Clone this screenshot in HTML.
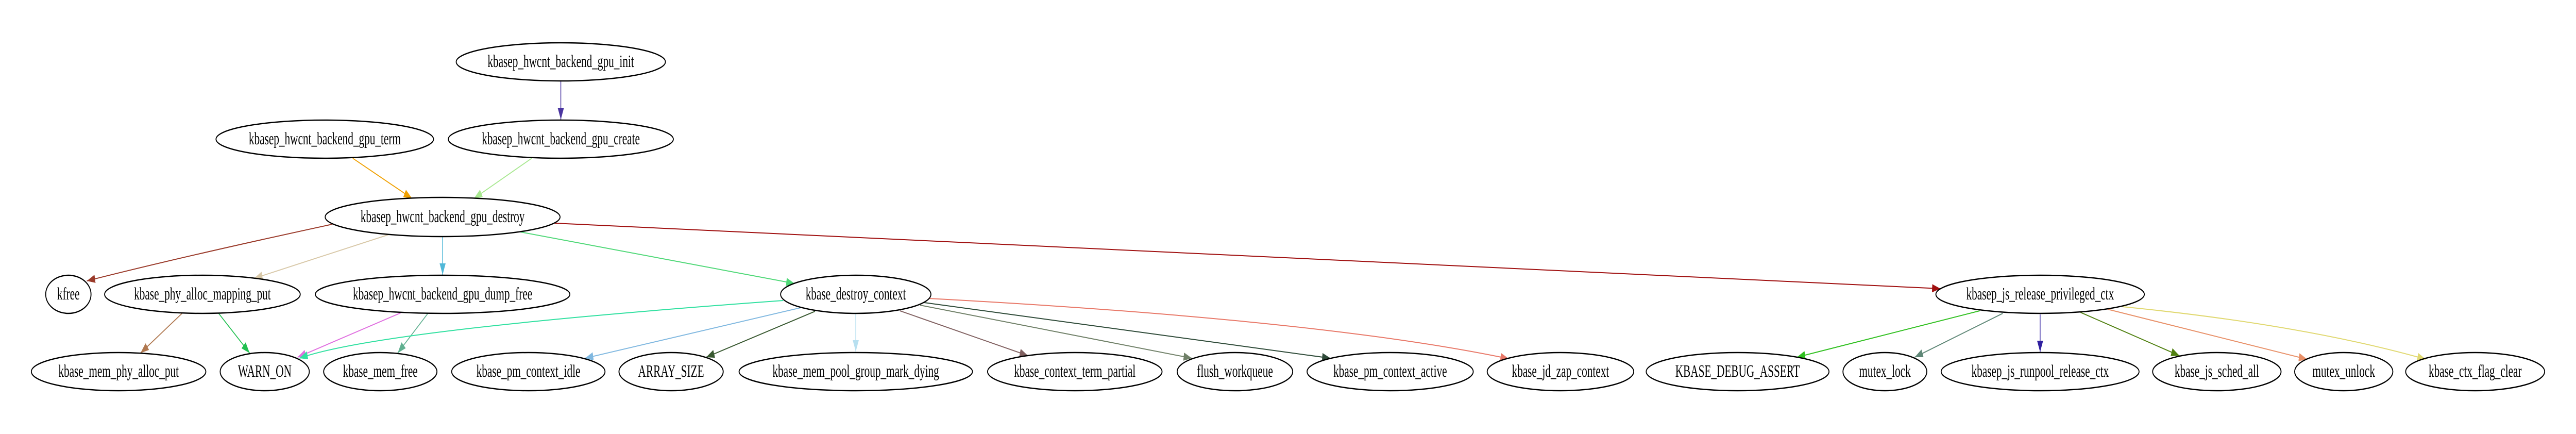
<!DOCTYPE html>
<html><head><meta charset="utf-8"><style>
html,body{margin:0;padding:0;background:#fff;overflow:hidden;width:100%;height:100%;}
svg{display:block;width:100vw;height:100vh;}
text{font-family:"Liberation Serif",serif;font-size:29px;fill:#000;}
ellipse{fill:none;stroke:#000;stroke-width:2.5;}
path.e{fill:none;stroke-width:2;}
</style></head><body>
<svg viewBox="0 0 6821 842" preserveAspectRatio="none" xmlns="http://www.w3.org/2000/svg">
<defs>
<marker id="m1" markerUnits="userSpaceOnUse" markerWidth="24" markerHeight="18" refX="22" refY="8" orient="auto"><path d="M0,0 L22,8 L0,16z" fill="#4b35a0"/></marker>
<marker id="m2" markerUnits="userSpaceOnUse" markerWidth="24" markerHeight="18" refX="22" refY="8" orient="auto"><path d="M0,0 L22,8 L0,16z" fill="#f0a000"/></marker>
<marker id="m3" markerUnits="userSpaceOnUse" markerWidth="24" markerHeight="18" refX="22" refY="8" orient="auto"><path d="M0,0 L22,8 L0,16z" fill="#a8e890"/></marker>
<marker id="m4" markerUnits="userSpaceOnUse" markerWidth="24" markerHeight="18" refX="22" refY="8" orient="auto"><path d="M0,0 L22,8 L0,16z" fill="#9a3a2a"/></marker>
<marker id="m5" markerUnits="userSpaceOnUse" markerWidth="24" markerHeight="18" refX="22" refY="8" orient="auto"><path d="M0,0 L22,8 L0,16z" fill="#d8c8a8"/></marker>
<marker id="m6" markerUnits="userSpaceOnUse" markerWidth="24" markerHeight="18" refX="22" refY="8" orient="auto"><path d="M0,0 L22,8 L0,16z" fill="#50b8d8"/></marker>
<marker id="m7" markerUnits="userSpaceOnUse" markerWidth="24" markerHeight="18" refX="22" refY="8" orient="auto"><path d="M0,0 L22,8 L0,16z" fill="#50d878"/></marker>
<marker id="m8" markerUnits="userSpaceOnUse" markerWidth="24" markerHeight="18" refX="22" refY="8" orient="auto"><path d="M0,0 L22,8 L0,16z" fill="#a01010"/></marker>
<marker id="m9" markerUnits="userSpaceOnUse" markerWidth="24" markerHeight="18" refX="22" refY="8" orient="auto"><path d="M0,0 L22,8 L0,16z" fill="#b07850"/></marker>
<marker id="m10" markerUnits="userSpaceOnUse" markerWidth="24" markerHeight="18" refX="22" refY="8" orient="auto"><path d="M0,0 L22,8 L0,16z" fill="#20c050"/></marker>
<marker id="m11" markerUnits="userSpaceOnUse" markerWidth="24" markerHeight="18" refX="22" refY="8" orient="auto"><path d="M0,0 L22,8 L0,16z" fill="#e070e0"/></marker>
<marker id="m12" markerUnits="userSpaceOnUse" markerWidth="24" markerHeight="18" refX="22" refY="8" orient="auto"><path d="M0,0 L22,8 L0,16z" fill="#60b090"/></marker>
<marker id="m13" markerUnits="userSpaceOnUse" markerWidth="24" markerHeight="18" refX="22" refY="8" orient="auto"><path d="M0,0 L22,8 L0,16z" fill="#30e0a0"/></marker>
<marker id="m14" markerUnits="userSpaceOnUse" markerWidth="24" markerHeight="18" refX="22" refY="8" orient="auto"><path d="M0,0 L22,8 L0,16z" fill="#80b8e0"/></marker>
<marker id="m15" markerUnits="userSpaceOnUse" markerWidth="24" markerHeight="18" refX="22" refY="8" orient="auto"><path d="M0,0 L22,8 L0,16z" fill="#385830"/></marker>
<marker id="m16" markerUnits="userSpaceOnUse" markerWidth="24" markerHeight="18" refX="22" refY="8" orient="auto"><path d="M0,0 L22,8 L0,16z" fill="#b8e0f0"/></marker>
<marker id="m17" markerUnits="userSpaceOnUse" markerWidth="24" markerHeight="18" refX="22" refY="8" orient="auto"><path d="M0,0 L22,8 L0,16z" fill="#806060"/></marker>
<marker id="m18" markerUnits="userSpaceOnUse" markerWidth="24" markerHeight="18" refX="22" refY="8" orient="auto"><path d="M0,0 L22,8 L0,16z" fill="#708068"/></marker>
<marker id="m19" markerUnits="userSpaceOnUse" markerWidth="24" markerHeight="18" refX="22" refY="8" orient="auto"><path d="M0,0 L22,8 L0,16z" fill="#2e4a38"/></marker>
<marker id="m20" markerUnits="userSpaceOnUse" markerWidth="24" markerHeight="18" refX="22" refY="8" orient="auto"><path d="M0,0 L22,8 L0,16z" fill="#e87868"/></marker>
<marker id="m21" markerUnits="userSpaceOnUse" markerWidth="24" markerHeight="18" refX="22" refY="8" orient="auto"><path d="M0,0 L22,8 L0,16z" fill="#30c020"/></marker>
<marker id="m22" markerUnits="userSpaceOnUse" markerWidth="24" markerHeight="18" refX="22" refY="8" orient="auto"><path d="M0,0 L22,8 L0,16z" fill="#608878"/></marker>
<marker id="m23" markerUnits="userSpaceOnUse" markerWidth="24" markerHeight="18" refX="22" refY="8" orient="auto"><path d="M0,0 L22,8 L0,16z" fill="#3020a0"/></marker>
<marker id="m24" markerUnits="userSpaceOnUse" markerWidth="24" markerHeight="18" refX="22" refY="8" orient="auto"><path d="M0,0 L22,8 L0,16z" fill="#508010"/></marker>
<marker id="m25" markerUnits="userSpaceOnUse" markerWidth="24" markerHeight="18" refX="22" refY="8" orient="auto"><path d="M0,0 L22,8 L0,16z" fill="#e89068"/></marker>
<marker id="m26" markerUnits="userSpaceOnUse" markerWidth="24" markerHeight="18" refX="22" refY="8" orient="auto"><path d="M0,0 L22,8 L0,16z" fill="#e0d870"/></marker>
</defs>

<path class="e" stroke="#4b35a0" marker-end="url(#m1)" d="M1485,158 L1485,232"/>
<path class="e" stroke="#f0a000" marker-end="url(#m2)" d="M934,307 L1091,385"/>
<path class="e" stroke="#a8e890" marker-end="url(#m3)" d="M1408,307 L1255,385"/>
<path class="e" stroke="#9a3a2a" marker-end="url(#m4)" d="M880,435 Q470,500 230,545"/>
<path class="e" stroke="#d8c8a8" marker-end="url(#m5)" d="M1030,455 L673,540"/>
<path class="e" stroke="#50b8d8" marker-end="url(#m6)" d="M1172,459 L1172,533"/>
<path class="e" stroke="#50d878" marker-end="url(#m7)" d="M1378,450 L2104,550"/>
<path class="e" stroke="#a01010" marker-end="url(#m8)" d="M1469,433 L5138,560"/>
<path class="e" stroke="#b07850" marker-end="url(#m9)" d="M482,608 L372,685"/>
<path class="e" stroke="#20c050" marker-end="url(#m10)" d="M579,608 L661,685"/>
<path class="e" stroke="#e070e0" marker-end="url(#m11)" d="M1061,607 L788,693"/>
<path class="e" stroke="#60b090" marker-end="url(#m12)" d="M1133,608 L1053,685"/>
<path class="e" stroke="#30e0a0" marker-end="url(#m13)" d="M2074,583 Q1000,640 793,695"/>
<path class="e" stroke="#80b8e0" marker-end="url(#m14)" d="M2120,597 L1549,695"/>
<path class="e" stroke="#385830" marker-end="url(#m15)" d="M2158,604 L1870,693"/>
<path class="e" stroke="#b8e0f0" marker-end="url(#m16)" d="M2266,609 L2266,682"/>
<path class="e" stroke="#806060" marker-end="url(#m17)" d="M2383,603 L2722,690"/>
<path class="e" stroke="#708068" marker-end="url(#m18)" d="M2436,592 L3156,695"/>
<path class="e" stroke="#2e4a38" marker-end="url(#m19)" d="M2447,587 L3523,695"/>
<path class="e" stroke="#e87868" marker-end="url(#m20)" d="M2459,579 Q3500,620 3995,696"/>
<path class="e" stroke="#30c020" marker-end="url(#m21)" d="M5242,603 L4758,693"/>
<path class="e" stroke="#608878" marker-end="url(#m22)" d="M5303,608 L5070,693"/>
<path class="e" stroke="#3020a0" marker-end="url(#m23)" d="M5402,610 L5402,683"/>
<path class="e" stroke="#508010" marker-end="url(#m24)" d="M5509,606 L5771,690"/>
<path class="e" stroke="#e89068" marker-end="url(#m25)" d="M5581,600 L6109,697"/>
<path class="e" stroke="#e0d870" marker-end="url(#m26)" d="M5620,595 Q6100,630 6423,697"/>

<g text-anchor="middle">
<ellipse cx="1485" cy="120" rx="277" ry="37"/><text transform="translate(1485,130) scale(1,1.15)">kbasep_hwcnt_backend_gpu_init</text>
<ellipse cx="860" cy="270" rx="288" ry="37"/><text transform="translate(860,280) scale(1,1.15)">kbasep_hwcnt_backend_gpu_term</text>
<ellipse cx="1485" cy="270" rx="298" ry="37"/><text transform="translate(1485,280) scale(1,1.15)">kbasep_hwcnt_backend_gpu_create</text>
<ellipse cx="1172" cy="421" rx="311" ry="38"/><text transform="translate(1172,431) scale(1,1.15)">kbasep_hwcnt_backend_gpu_destroy</text>

<ellipse cx="181" cy="571" rx="60" ry="37"/><text transform="translate(181,581) scale(1,1.15)">kfree</text>
<ellipse cx="536" cy="571" rx="259" ry="37"/><text transform="translate(536,581) scale(1,1.15)">kbase_phy_alloc_mapping_put</text>
<ellipse cx="1172" cy="571" rx="337" ry="37"/><text transform="translate(1172,581) scale(1,1.15)">kbasep_hwcnt_backend_gpu_dump_free</text>
<ellipse cx="2266" cy="571" rx="199" ry="37"/><text transform="translate(2266,581) scale(1,1.15)">kbase_destroy_context</text>
<ellipse cx="5402" cy="571" rx="276" ry="37"/><text transform="translate(5402,581) scale(1,1.15)">kbasep_js_release_privileged_ctx</text>

<ellipse cx="314" cy="721" rx="231" ry="37"/><text transform="translate(314,731) scale(1,1.15)">kbase_mem_phy_alloc_put</text>
<ellipse cx="701" cy="721" rx="118" ry="37"/><text transform="translate(701,731) scale(1,1.15)">WARN_ON</text>
<ellipse cx="1007" cy="721" rx="150" ry="37"/><text transform="translate(1007,731) scale(1,1.15)">kbase_mem_free</text>
<ellipse cx="1399" cy="721" rx="203" ry="37"/><text transform="translate(1399,731) scale(1,1.15)">kbase_pm_context_idle</text>
<ellipse cx="1777" cy="721" rx="138" ry="37"/><text transform="translate(1777,731) scale(1,1.15)">ARRAY_SIZE</text>
<ellipse cx="2266" cy="721" rx="309" ry="37"/><text transform="translate(2266,731) scale(1,1.15)">kbase_mem_pool_group_mark_dying</text>
<ellipse cx="2846" cy="721" rx="231" ry="37"/><text transform="translate(2846,731) scale(1,1.15)">kbase_context_term_partial</text>
<ellipse cx="3270" cy="721" rx="153" ry="37"/><text transform="translate(3270,731) scale(1,1.15)">flush_workqueue</text>
<ellipse cx="3681" cy="721" rx="220" ry="37"/><text transform="translate(3681,731) scale(1,1.15)">kbase_pm_context_active</text>
<ellipse cx="4132" cy="721" rx="194" ry="37"/><text transform="translate(4132,731) scale(1,1.15)">kbase_jd_zap_context</text>
<ellipse cx="4601" cy="721" rx="242" ry="37"/><text transform="translate(4601,731) scale(1,1.15)">KBASE_DEBUG_ASSERT</text>
<ellipse cx="4991" cy="721" rx="111" ry="37"/><text transform="translate(4991,731) scale(1,1.15)">mutex_lock</text>
<ellipse cx="5402" cy="721" rx="262" ry="37"/><text transform="translate(5402,731) scale(1,1.15)">kbasep_js_runpool_release_ctx</text>
<ellipse cx="5870" cy="721" rx="170" ry="37"/><text transform="translate(5870,731) scale(1,1.15)">kbase_js_sched_all</text>
<ellipse cx="6206" cy="721" rx="130" ry="37"/><text transform="translate(6206,731) scale(1,1.15)">mutex_unlock</text>
<ellipse cx="6554" cy="721" rx="184" ry="37"/><text transform="translate(6554,731) scale(1,1.15)">kbase_ctx_flag_clear</text>
</g>
</svg>
</body></html>
